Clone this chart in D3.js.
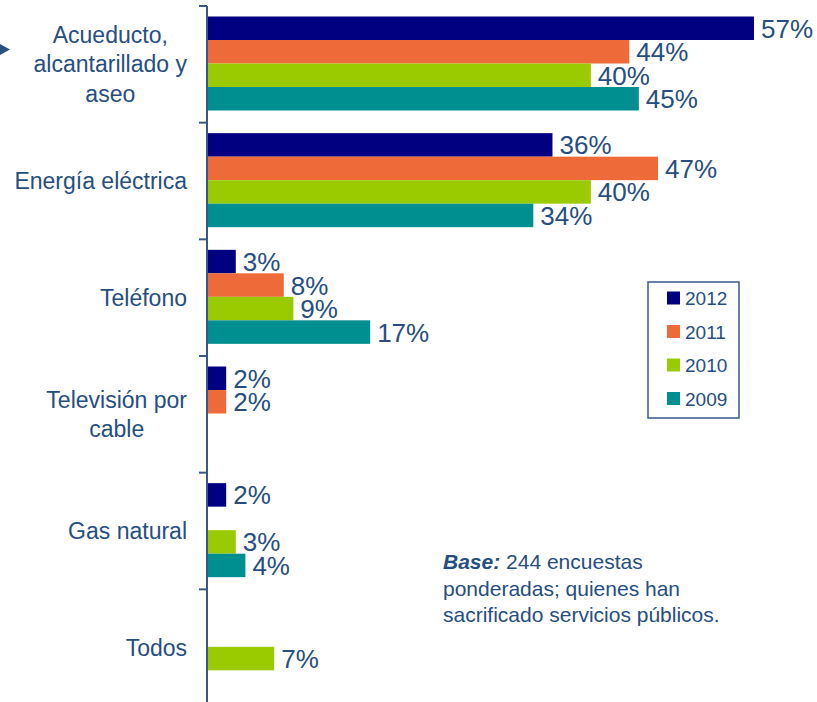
<!DOCTYPE html>
<html>
<head>
<meta charset="utf-8">
<script src="https://cdn.jsdelivr.net/npm/d3@7"></script>
<style>
  body { margin: 0; background: #fff; }
  svg { display: block; font-family: "Liberation Sans", Arial, sans-serif; }
</style>
</head>
<body>
<div id="chart"></div>
<script>
// data
const categories = ['Acueducto, alcantarillado y aseo', 'Energía eléctrica', 'Teléfono',
                    'Televisión por cable', 'Gas natural', 'Todos'];
const categoryLines = [['Acueducto,', 'alcantarillado y', 'aseo'], ['Energía eléctrica'], ['Teléfono'],
                       ['Televisión por', 'cable'], ['Gas natural'], ['Todos']];
const years = ['2012', '2011', '2010', '2009'];
const values2012 = [57, 36, 3, 2, 2, null];
const values2011 = [44, 47, 8, 2, null, null];
const values2010 = [40, 40, 9, null, 3, 7];
const values2009 = [45, 34, 17, null, 4, null];
const yearColors = ['#000080', '#ee6a38', '#9acb00', '#008f91'];
const noteLines = ['244 encuestas', 'ponderadas; quienes han', 'sacrificado servicios públicos.'];

const textColor = '#264e80';
const axisColor = '#35598a';
const W = 817, H = 702;

const svg = d3.select('#chart').append('svg')
    .attr('width', W)
    .attr('height', H);

const seriesValues = [values2012, values2011, values2010, values2009];
const rows = [];
categories.forEach((c, i) => {
    years.forEach((yr, j) => {
        if (seriesValues[j][i] != null) rows.push({cat: c, year: yr, value: seriesValues[j][i]});
    });
});

const xScale = d3.scaleLinear().domain([0, 57]).range([207, 754]);
const yGroup = d3.scaleBand().domain(categories).range([6, 706]);
const yInner = d3.scaleBand().domain(years).range([10.5, 10.5 + 94]);
const color = d3.scaleOrdinal().domain(years).range(yearColors);

// bars
const plotG = svg.append('g').attr('id', 'plot');
plotG.selectAll('rect')
    .data(rows)
    .enter().append('rect')
    .attr('x', xScale(0))
    .attr('y', d => yGroup(d.cat) + yInner(d.year))
    .attr('width', d => xScale(d.value) - xScale(0))
    .attr('height', yInner.bandwidth())
    .attr('fill', d => color(d.year));

// value labels (they overlap a little, as in the original)
plotG.selectAll('text.val')
    .data(rows)
    .enter().append('text')
    .attr('class', 'val')
    .attr('x', d => xScale(d.value) + 7)
    .attr('y', d => yGroup(d.cat) + yInner(d.year) + yInner.bandwidth() / 2 + 9.5)
    .attr('fill', textColor)
    .style('font-size', '26px')
    .text(d => d.value + '%');

// axis line + ticks at group boundaries
const axisG = svg.append('g').attr('id', 'axis');
axisG.append('line')
    .attr('x1', 207).attr('x2', 207)
    .attr('y1', 6).attr('y2', H)
    .attr('stroke', axisColor).attr('stroke-width', 2);
axisG.selectAll('line.tick')
    .data(categories)
    .enter().append('line')
    .attr('class', 'tick')
    .attr('x1', 199).attr('x2', 207)
    .attr('y1', d => yGroup(d)).attr('y2', d => yGroup(d))
    .attr('stroke', axisColor).attr('stroke-width', 2);

// category labels: block right-aligned at 187, lines centred in block
const lineH = 29.5;
categories.forEach((c, i) => {
    const lines = categoryLines[i];
    const cy = yGroup(c) + yGroup.bandwidth() / 2;
    const g = svg.append('g');
    const texts = g.selectAll('text')
        .data(lines)
        .enter().append('text')
        .attr('fill', textColor)
        .style('font-size', '23px')
        .attr('text-anchor', 'middle')
        .attr('y', (d, k) => cy + (k - (lines.length - 1) / 2) * lineH + 8)
        .text(d => d);
    let maxW = 0;
    texts.each(function() { maxW = Math.max(maxW, this.getComputedTextLength()); });
    texts.attr('x', 187 - maxW / 2);
});

// little arrow marker at left
svg.append('polygon')
    .attr('points', '0,44 10,49.5 0,55')
    .attr('fill', '#2a4f80');

// legend
const legend = svg.append('g').attr('id', 'legend');
legend.append('rect')
    .attr('x', 648).attr('y', 282)
    .attr('width', 91).attr('height', 136)
    .attr('fill', 'white')
    .attr('stroke', axisColor).attr('stroke-width', 1.5);
const legY = d3.scalePoint().domain(years).range([298, 398.5]);
legend.selectAll('rect.sw')
    .data(years)
    .enter().append('rect')
    .attr('class', 'sw')
    .attr('x', 667).attr('y', d => legY(d) - 6.5)
    .attr('width', 13).attr('height', 13)
    .attr('fill', d => color(d));
legend.selectAll('text')
    .data(years)
    .enter().append('text')
    .attr('x', 685).attr('y', d => legY(d) + 7)
    .attr('fill', textColor)
    .style('font-size', '19px')
    .text(d => d);

// base note
const note = svg.append('g').attr('id', 'note');
noteLines.forEach((t, i) => {
    const txt = note.append('text')
        .attr('x', 443).attr('y', 569 + i * 26.5)
        .attr('fill', textColor)
        .style('font-size', '21px');
    if (i === 0) {
        txt.append('tspan').style('font-weight', 'bold').style('font-style', 'italic').text('Base:');
        txt.append('tspan').text(' ' + t);
    } else {
        txt.text(t);
    }
});
</script>
</body>
</html>
